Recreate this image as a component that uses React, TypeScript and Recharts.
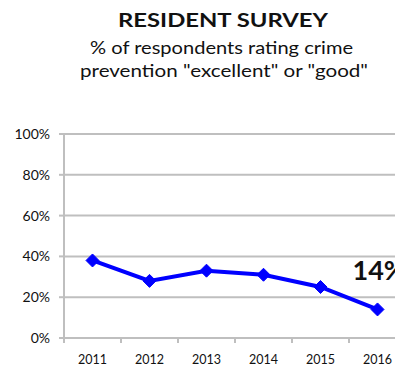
import React from "react";
import { LineChart, Line, XAxis, YAxis, CartesianGrid } from "recharts";

const years = ["2011", "2012", "2013", "2014", "2015", "2016"];
const ratingPct = [38, 28, 33, 31, 25, 14];
const yTicks = [0, 20, 40, 60, 80, 100];
const titleText = "RESIDENT SURVEY";
const subtitleLines = ['% of respondents rating crime', 'prevention "excellent" or "good"'];

const data = years.map((y, i) => ({ year: y, value: ratingPct[i] }));

const CHART_W = 420;
const CHART_H = 366;
const MARGIN = { top: 134, right: 14, bottom: 0, left: 0 };
const Y_AXIS_W = 64;
const PLOT_W = CHART_W - MARGIN.left - MARGIN.right - Y_AXIS_W;
const HALF_BAND = PLOT_W / years.length / 2;

const FONT = "Lato, 'Open Sans', sans-serif";
const GRID = "#BFBFBF";
const BLUE = "#0000FF";

const Diamond = (props: any) => {
  const { cx, cy } = props;
  if (cx == null || cy == null) return null;
  const r = 6.5;
  return (
    <polygon
      points={`${cx},${cy - r} ${cx + r},${cy} ${cx},${cy + r} ${cx - r},${cy}`}
      fill={BLUE}
      stroke={BLUE}
      strokeWidth={1}
    />
  );
};

const XTick = (props: any) => {
  const { x, y, payload, index } = props;
  const axisY = y - 17;
  return (
    <g>
      <line x1={x - HALF_BAND} x2={x - HALF_BAND} y1={axisY} y2={axisY + 5} stroke={GRID} strokeWidth={2} />
      {index === years.length - 1 ? (
        <line x1={x + HALF_BAND} x2={x + HALF_BAND} y1={axisY} y2={axisY + 5} stroke={GRID} strokeWidth={2} />
      ) : null}
      <text
        x={x}
        y={y}
        dy="0.71em"
        textAnchor="middle"
        fontFamily={FONT}
        fontSize={12.5}
        fill="#111"
        textLength={29}
        lengthAdjust="spacingAndGlyphs"
      >
        {payload.value}
      </text>
    </g>
  );
};

const EndLabel = (props: any) => {
  const { x, y, index, value } = props;
  if (index !== ratingPct.length - 1) return null;
  return (
    <text x={x - 25} y={y - 29} fontFamily={FONT} fontWeight={700} fontSize={27} fill="#111">
      {value}%
    </text>
  );
};

export default function App() {
  return (
    <div
      style={{
        position: "fixed",
        left: 0,
        top: 0,
        width: 395,
        height: 366,
        overflow: "hidden",
        background: "#fff",
      }}
    >
      <div style={{ position: "absolute", left: 0, top: 0 }}>
        <LineChart width={CHART_W} height={CHART_H} data={data} margin={MARGIN}>
          <CartesianGrid vertical={false} stroke={GRID} strokeWidth={2} />
          <XAxis
            dataKey="year"
            scale="band"
            height={28}
            axisLine={{ stroke: GRID, strokeWidth: 2 }}
            tickLine={false}
            tickSize={5}
            tickMargin={12}
            tick={<XTick />}
            interval={0}
          />
          <YAxis
            width={Y_AXIS_W}
            domain={[0, 100]}
            ticks={yTicks}
            interval={0}
            tickFormatter={(v: number) => `${v}%`}
            axisLine={{ stroke: GRID, strokeWidth: 2 }}
            tickLine={{ stroke: GRID, strokeWidth: 2 }}
            tickSize={5}
            tickMargin={9}
            tick={{ fontFamily: FONT, fontSize: 14, fill: "#111" }}
          />
          <Line
            type="linear"
            dataKey="value"
            stroke={BLUE}
            strokeWidth={4}
            dot={<Diamond />}
            activeDot={false}
            isAnimationActive={false}
            label={<EndLabel />}
          />
        </LineChart>
      </div>
      <svg width={395} height={100} style={{ position: "absolute", left: 0, top: 0 }}>
        <text
          x={223}
          y={27}
          textAnchor="middle"
          fontFamily={FONT}
          fontWeight={700}
          fontSize={19.5}
          fill="#111"
          textLength={210}
          lengthAdjust="spacingAndGlyphs"
        >
          {titleText}
        </text>
        <text x={221.5} y={54} textAnchor="middle" fontFamily={FONT} fontSize={18} fill="#111" textLength={263} lengthAdjust="spacingAndGlyphs">
          {subtitleLines[0]}
        </text>
        <text x={224} y={77} textAnchor="middle" fontFamily={FONT} fontSize={18} fill="#111" textLength={288} lengthAdjust="spacingAndGlyphs">
          {subtitleLines[1]}
        </text>
      </svg>
    </div>
  );
}
